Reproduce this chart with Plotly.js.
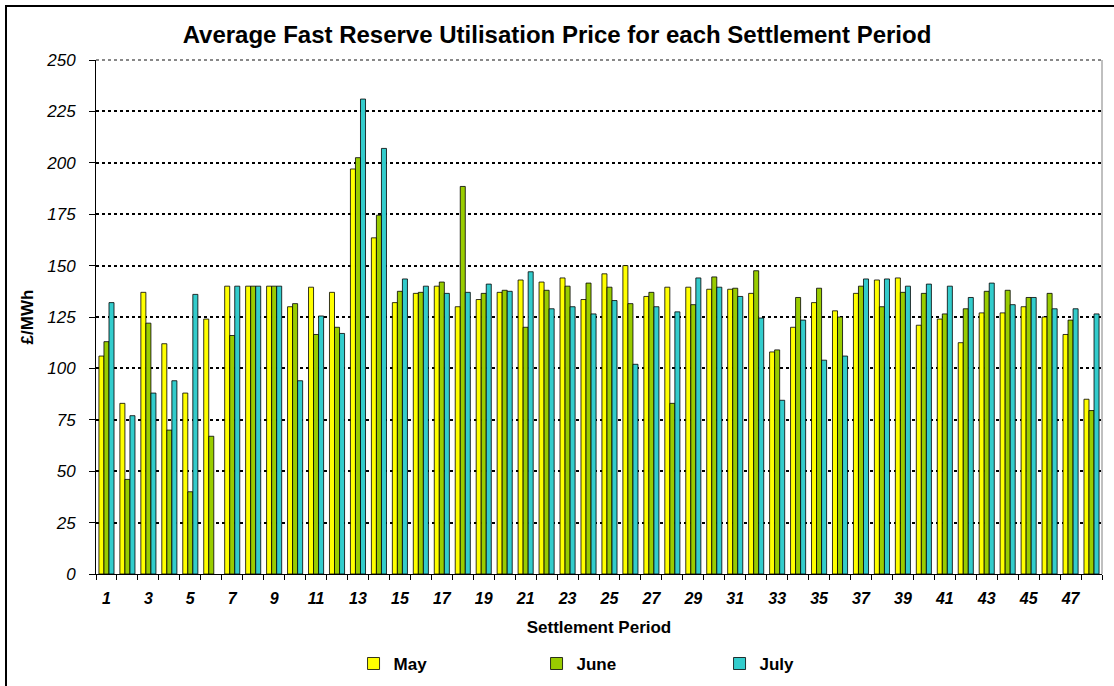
<!DOCTYPE html>
<html>
<head>
<meta charset="utf-8">
<script src="https://cdn.plot.ly/plotly-3.0.1.min.js"></script>
<style>
  html, body { margin: 0; padding: 0; background: #fff; }
  #wrap { position: relative; width: 1114px; height: 686px; }
  #chart { position: absolute; left: 0; top: 0; width: 1114px; height: 686px; }
  #frame { position: absolute; left: 5px; top: 5px; width: 1109px; height: 681px;
           border-left: 2px solid #000; border-top: 2px solid #000; box-sizing: border-box; pointer-events: none; }
</style>
</head>
<body>
<div id="wrap"><div id="chart"></div><div id="frame"></div></div>
<script>
const periods = Array.from({length: 48}, (_, i) => i + 1);
const tickLabels = ["1","3","5","7","9","11","13","15","17","19","21","23","25","27","29","31","33","35","37","39","41","43","45","47"];
const tickPositions = [1,3,5,7,9,11,13,15,17,19,21,23,25,27,29,31,33,35,37,39,41,43,45,47];

const may = [106,83,137,112,88,124,140,140,140,130,
             139.5,137,197,163.5,132,136.5,140,130,133.5,137,
             143,142,144,133.5,146,150,135,139.5,139.5,138.5,
             138.5,136.5,108,120,132,128,136.5,143,144,121,
             124,112.5,127,127,130,125,116.5,85];
const june = [113,46,122,70,40,67,116,140,140,131.5,
              116.5,120,202.5,174.5,137.5,137,142,188.5,136.5,138,
              120,138,140,141.5,139.5,131.5,137,83,131,144.5,
              139,147.5,109,134.5,139,125,140,130,137,136.5,
              126.5,129,137.5,138,134.5,136.5,123.5,79.5];
const july = [132,77,88,94,136,null,140,140,140,94,
              125.5,117,231,207,143.5,140,136.5,137,141,137.5,
              147,129,130,126.5,133,102,130,127.5,144,139.5,
              135,124.5,84.5,123.5,104,106,143.5,143.5,140,141,
              140,134.5,141.5,131,134.5,129,129,126.5];

const yTicks = [0,25,50,75,100,125,150,175,200,225,250];
const boundaries = periods.map(p => p - 0.5).concat([48.5]);

const FONT = '"Liberation Sans", Arial, sans-serif';
const outline = {color: '#000', width: 0.8};

const traces = [
  {type: 'bar', name: 'May', x: periods, y: may, marker: {color: '#FFFF00', line: outline}},
  {type: 'bar', name: 'June', x: periods, y: june, marker: {color: '#99CC00', line: outline}},
  {type: 'bar', name: 'July', x: periods, y: july, marker: {color: '#33CCCC', line: outline}}
];

const layout = {
  width: 1114, height: 686,
  margin: {l: 96, r: 12, t: 60, b: 112, autoexpand: false},
  paper_bgcolor: '#fff', plot_bgcolor: '#fff',
  font: {family: FONT, color: '#000'},
  barmode: 'group', bargap: 0.28, bargroupgap: 0,
  showlegend: true,
  title: {
    text: 'Average Fast Reserve Utilisation Price for each Settlement Period',
    font: {family: FONT, size: 24, weight: 'bold', color: '#000'},
    xref: 'container', x: 0.5, xanchor: 'center',
    yref: 'container', y: 1 - 35/686, yanchor: 'middle'
  },
  xaxis: {
    type: 'linear', range: [0.5, 48.5], fixedrange: true, automargin: false,
    tickmode: 'array', tickvals: tickPositions, ticktext: tickLabels,
    ticks: '', showgrid: false, zeroline: false,
    showline: true, linecolor: '#000', linewidth: 1,
    tickfont: {family: FONT, size: 16, weight: 'bold', style: 'italic', color: '#000'},
    ticklabelstandoff: 10,
    minor: {tickmode: 'array', tickvals: boundaries, ticks: 'outside', ticklen: 5, tickcolor: '#000', tickwidth: 1, showgrid: false},
    title: {text: 'Settlement Period', font: {family: FONT, size: 17, weight: 'bold', color: '#000'}, standoff: 14}
  },
  yaxis: {
    range: [0, 250], fixedrange: true, automargin: false,
    tickmode: 'array', tickvals: yTicks,
    ticks: 'outside', ticklen: 6, tickcolor: '#000',
    showline: true, linecolor: '#000', linewidth: 1,
    showgrid: true, gridcolor: '#000', gridwidth: 2, griddash: 'dot',
    zeroline: false,
    tickfont: {family: FONT, size: 17, style: 'italic', color: '#000'},
    ticklabelstandoff: 10,
    title: {text: '£/MWh', font: {family: FONT, size: 17, weight: 'bold', color: '#000'}, standoff: 8}
  },
  legend: {
    orientation: 'h', x: 0.256, xanchor: 'left', y: -0.175, yanchor: 'middle',
    entrywidth: 138, entrywidthmode: 'pixels',
    font: {family: FONT, size: 17, weight: 'bold', color: '#000'},
    itemclick: false, itemdoubleclick: false
  },
  shapes: [
    {type: 'line', xref: 'paper', yref: 'paper', x0: 1, x1: 1, y0: 0, y1: 1, line: {color: '#808080', width: 1}},
    {type: 'line', xref: 'paper', yref: 'paper', x0: 0, x1: 1, y0: 1, y1: 1, line: {color: '#888', width: 2, dash: 'dot'}}
  ]
};

Plotly.newPlot('chart', traces, layout, {displayModeBar: false, staticPlot: true});
</script>
</body>
</html>
